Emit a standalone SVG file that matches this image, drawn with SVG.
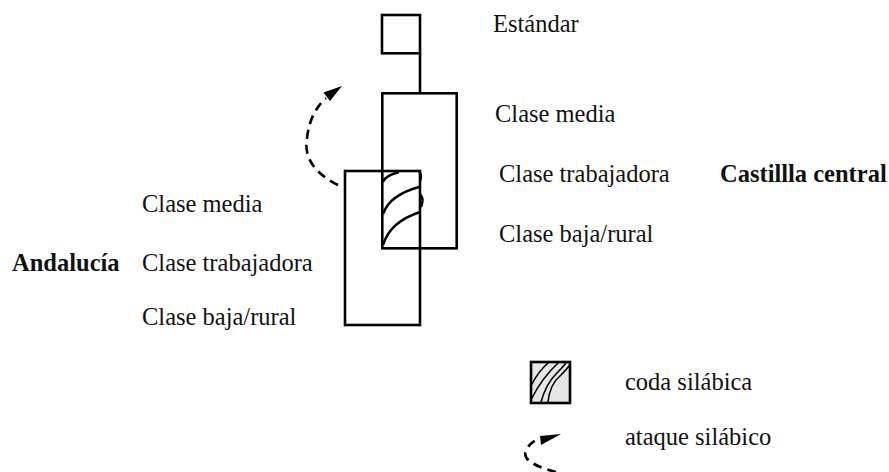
<svg xmlns="http://www.w3.org/2000/svg" width="889" height="472" viewBox="0 0 889 472">
  <defs>
    <style>
      .box { fill: none; stroke: #000; stroke-width: 2.6; }
      .hatch { fill: none; stroke: #000; stroke-width: 2.4; stroke-linecap: round; }
      .lhatch { fill: none; stroke: #000; stroke-width: 1.6; stroke-linecap: round; }
      .dash { fill: none; stroke: #000; stroke-width: 2.6; stroke-dasharray: 9 6; }
      text { font-family: 'Liberation Serif', 'DejaVu Serif', serif; font-size: 24.5px; fill: #111; }
      .bold { font-weight: bold; }
    </style>
  </defs>
  <rect width="889" height="472" fill="#fff"/>

  <g id="connectors">
    <line class="box" x1="420" y1="53.3" x2="420" y2="93.3"/>
    <path class="dash" d="M338,185 C318,175 303,160 307,138 C309,121 315,108 326,98"/>
    <polygon points="342,86 323.5,92.5 330,101" fill="#000"/>
  </g>

  <g id="estandar">
    <rect class="box" x="382" y="15" width="38" height="38.3"/>
    <text x="493" y="32" font-family="Liberation Serif, DejaVu Serif, serif">Estándar</text>
  </g>

  <g id="castilla">
    <rect class="box" x="382.3" y="93.3" width="74.4" height="155"/>
    <text x="495" y="122" font-family="Liberation Serif, DejaVu Serif, serif">Clase media</text>
    <text x="499" y="182" font-family="Liberation Serif, DejaVu Serif, serif">Clase trabajadora</text>
    <text x="499" y="242" font-family="Liberation Serif, DejaVu Serif, serif">Clase baja/rural</text>
    <text class="bold" x="720" y="182" font-family="Liberation Serif, DejaVu Serif, serif">Castillla central</text>
  </g>

  <g id="andalucia">
    <rect class="box" x="345" y="171" width="75" height="154"/>
    <text x="142" y="212" font-family="Liberation Serif, DejaVu Serif, serif">Clase media</text>
    <text class="bold" x="12" y="271" font-family="Liberation Serif, DejaVu Serif, serif">Andalucía</text>
    <text x="142" y="271" font-family="Liberation Serif, DejaVu Serif, serif">Clase trabajadora</text>
    <text x="142" y="325" font-family="Liberation Serif, DejaVu Serif, serif">Clase baja/rural</text>
  </g>

  <g id="coda-overlap">
    <path class="hatch" d="M383.5,181 Q386,175.5 398,172.5"/>
    <path class="hatch" d="M383.5,213 Q390,195 419,187"/>
    <path class="hatch" d="M383.5,244 Q390,222 420,212"/>
    <path class="hatch" d="M419,171.5 Q422,174 420.5,180 M420.5,195 Q424,198 421.5,206"/>
  </g>

  <g id="legend-coda">
    <rect x="531" y="362" width="39" height="41" fill="#e6e6e6"/>
    <path class="lhatch" d="M532,384 Q538,372 548,363"/>
    <path class="lhatch" d="M532,398 Q542,378 558,363"/>
    <path class="lhatch" d="M541,402 Q546,384 556,374 Q562,368 566,363"/>
    <path class="lhatch" d="M548,402 Q550,384 560,376 Q566,370 569,366"/>
    <rect class="box" x="531" y="362" width="39" height="41"/>
    <text x="625" y="390" font-family="Liberation Serif, DejaVu Serif, serif">coda silábica</text>
  </g>

  <g id="legend-ataque">
    <path class="dash" d="M556,472 C541,468 521,461 526,451 C528,446 531,443 536,440" stroke-dasharray="7 6"/>
    <polygon points="561,434 540,436 541,445" fill="#000"/>
    <text x="625" y="445" font-family="Liberation Serif, DejaVu Serif, serif">ataque silábico</text>
  </g>
</svg>
